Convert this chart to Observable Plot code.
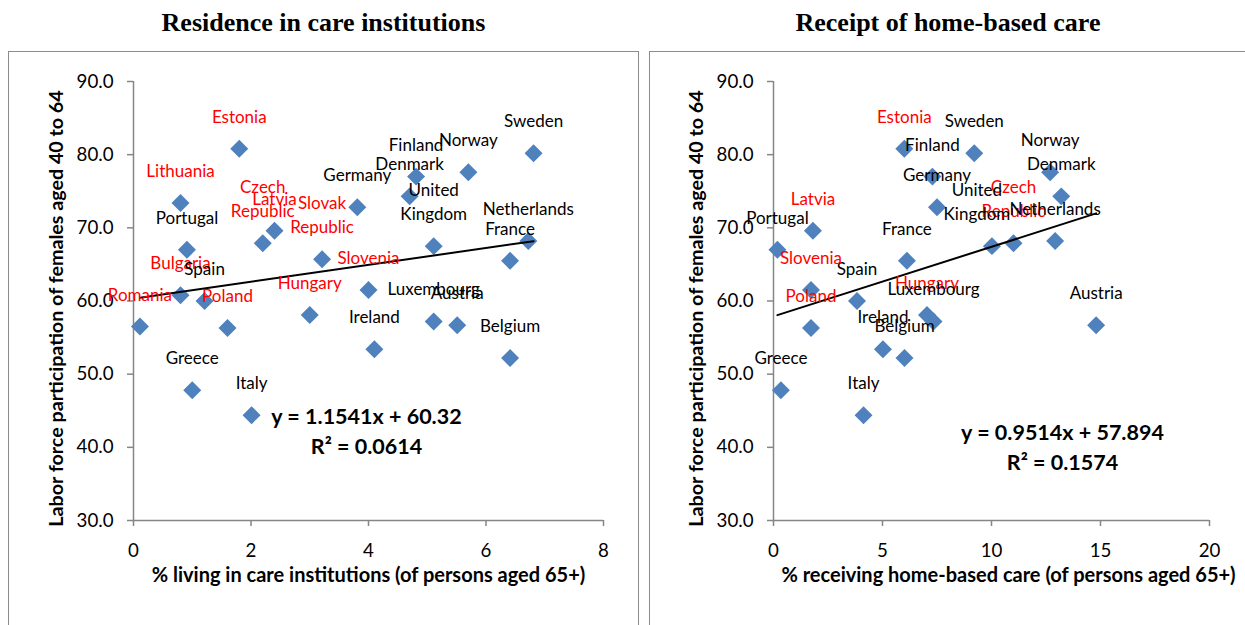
<!DOCTYPE html>
<html>
<head>
<meta charset="utf-8">
<script src="https://cdn.jsdelivr.net/npm/d3@7"></script>
<script src="https://cdn.jsdelivr.net/npm/@observablehq/plot@0.6"></script>
<style>
  html, body { margin: 0; padding: 0; background: #fff; }
  #page { position: relative; width: 1245px; height: 625px; overflow: hidden; background: #fff; }
  .box { position: absolute; top: 51px; height: 620px; border: 1.5px solid #8c8c8c; box-sizing: border-box; }
  .title { position: absolute; top: 10px; font-family: "Liberation Serif", "Times New Roman", serif; font-weight: bold; font-size: 26px; line-height: 1; text-align: center; color: #000; }
  .plotwrap { position: absolute; top: 0; }
  .plotwrap svg { background: transparent; overflow: visible; max-width: none; }
</style>
</head>
<body>
<div id="page">
  <div class="box" style="left:8px; width:631px;"></div>
  <div class="box" style="left:649px; width:610px;"></div>
  <div class="title" style="left:8px; width:631px;">Residence in care institutions</div>
  <div class="title" style="left:649px; width:598px;">Receipt of home-based care</div>
  <div class="plotwrap" id="left" style="left:0px; width:640px;"></div>
  <div class="plotwrap" id="right" style="left:640px; width:605px;"></div>
</div>
<script>
// ---- data ----
const countries = ["Estonia","Lithuania","Portugal","Czech Republic","Latvia","Bulgaria","Spain","Romania","Poland","Hungary","Slovak Republic","Slovenia","Germany","Denmark","Finland","Norway","Sweden","United Kingdom","Netherlands","France","Luxembourg","Austria","Ireland","Belgium","Greece","Italy"];
const region = ["CEE","CEE","West","CEE","CEE","CEE","West","CEE","CEE","CEE","CEE","CEE","West","West","West","West","West","West","West","West","West","West","West","West","West","West"];
// Labor force participation of females aged 40 to 64
const femaleLFP = [80.8,73.4,67.0,67.9,69.6,60.8,60.0,56.5,56.3,58.1,65.7,61.5,72.8,74.3,77.0,77.6,80.2,67.5,68.2,65.5,57.2,56.7,53.4,52.2,47.8,44.4];
// % living in care institutions (persons aged 65+)
const careInstitutions = [1.80,0.80,0.91,2.20,2.40,0.80,1.21,0.11,1.60,3.00,3.21,4.00,3.81,4.70,4.81,5.70,6.81,5.11,6.72,6.41,5.11,5.51,4.10,6.41,1.00,2.01];
// % receiving home-based care (persons aged 65+)
const homeCare = [6.00,null,0.18,11.01,1.81,null,3.83,null,1.72,7.04,null,1.72,7.50,13.20,7.29,12.69,9.21,10.02,12.92,6.12,7.34,14.80,5.02,6.01,0.34,4.13];

const yTicks = [30,40,50,60,70,80,90];
const xTicksLeft = [0,2,4,6,8];
const xTicksRight = [0,5,10,15,20];

const trendLeft = {slope: 1.1541, intercept: 60.32, r2: "0.0614"};
const trendRight = {slope: 0.9514, intercept: 57.894, r2: "0.1574"};

const yTitle = "Labor force participation of females aged 40 to 64";
const xTitleLeft = "% living in care institutions (of persons aged 65+)";
const xTitleRight = "% receiving home-based care (of persons aged 65+)";

// label nudges (layout only, pixels)
const nudgeRight = {"United Kingdom": -15};

// ---- build ----
const rows = countries.map((name, i) => ({name, region: region[i], lfp: femaleLFP[i], inst: careInstitutions[i], home: homeCare[i]}));

const SANS = "Lato, 'Open Sans', sans-serif";
const BLUE = "#4f81bd";
const AXIS = "#868686";

function panel({data, xKey, width, marginRight, xDomain, xTicks, trend, eqDx, eqDy, xTitle, xTitleDx, nudge = {}}) {
  const ext = d3.extent(data, d => d[xKey]);
  const line = ext.map(x => ({x, y: trend.slope * x + trend.intercept}));
  const eqText = `y = ${trend.slope}x + ${trend.intercept}\nR² = ${trend.r2}`;
  const labelOpts = (dx) => ({
    x: xKey, y: "lfp",
    text: d => d.name.replace(" ", "\n"),
    fill: d => d.region === "CEE" ? "#ff0000" : "#000000",
    lineAnchor: "bottom", dy: -26, dx,
    fontSize: 17, lineHeight: 24/17,
    textAnchor: "middle"
  });
  const plain = data.filter(d => !(d.name in nudge));
  const nudgedMarks = data.filter(d => d.name in nudge).map(d => Plot.text([d], labelOpts(nudge[d.name])));
  return Plot.plot({
    width, height: 625,
    marginLeft: 133, marginRight, marginTop: 81, marginBottom: 105,
    style: {background: "transparent", fontFamily: SANS, overflow: "visible"},
    x: {domain: xDomain, ticks: xTicks},
    y: {domain: [30, 90], ticks: yTicks},
    marks: [
      Plot.axisY({ticks: yTicks, tickFormat: d => d.toFixed(1), tickSize: 6, tickPadding: 14, fontSize: 18, stroke: AXIS, strokeWidth: 1.5, fill: "#000", label: null}),
      Plot.axisX({ticks: xTicks, tickFormat: d => String(d), tickSize: 6, tickPadding: 17, fontSize: 18, stroke: AXIS, strokeWidth: 1.5, fill: "#000", label: null}),
      Plot.ruleX([xDomain[0]], {y1: 30, y2: 90, stroke: AXIS, strokeWidth: 1.5}),
      Plot.ruleY([30], {x1: xDomain[0], x2: xDomain[1], stroke: AXIS, strokeWidth: 1.5}),
      Plot.dot(data, {x: xKey, y: "lfp", symbol: "diamond2", r: 8.1, fill: BLUE, stroke: "none"}),
      Plot.line(line, {x: "x", y: "y", stroke: "#000", strokeWidth: 2}),
      Plot.text(plain, labelOpts(0)),
      ...nudgedMarks,
      Plot.text([eqText], {frameAnchor: "middle", dx: eqDx, dy: eqDy, fontSize: 21.5, fontWeight: "bold", lineHeight: 30/21.5, fill: "#000"}),
      Plot.text([xTitle], {frameAnchor: "bottom", dx: xTitleDx, dy: 61, fontSize: 20, fontWeight: "bold", fill: "#000"}),
      Plot.text([yTitle], {frameAnchor: "left", textAnchor: "middle", rotate: -90, dx: -77, dy: 7.5, fontSize: 19.7, fontWeight: "bold", fill: "#000"})
    ]
  });
}

// scale tick-label font so that "90.0" is as wide as in the reference (about 37px)
function fitTicks(svg, targetWidth) {
  const yg = svg.querySelector('g[aria-label="y-axis tick label"]');
  const xg = svg.querySelector('g[aria-label="x-axis tick label"]');
  if (!yg) return;
  const yt = [...yg.querySelectorAll("text")];
  const sample = yt.find(t => t.textContent === "90.0") || yt[yt.length - 1];
  const w = sample.getComputedTextLength();
  const fs = parseFloat(getComputedStyle(sample).fontSize);
  if (!(w > 0) || !(fs > 0)) return;
  const nfs = Math.min(22, fs * targetWidth / w);
  [...yt, ...(xg ? xg.querySelectorAll("text") : [])].forEach(t => t.style.fontSize = nfs + "px");
}

const leftData = rows;
const rightData = rows.filter(d => d.home != null);

const leftSvg = panel({
  data: leftData, xKey: "inst", width: 640, marginRight: 37,
  xDomain: [0, 8], xTicks: xTicksLeft, trend: trendLeft,
  eqDx: -2, eqDy: 128, xTitle: xTitleLeft, xTitleDx: 0
});
document.getElementById("left").appendChild(leftSvg);
fitTicks(leftSvg, 37);

const rightSvg = panel({
  data: rightData, xKey: "home", width: 605, marginRight: 36,
  xDomain: [0, 20], xTicks: xTicksRight, trend: trendRight,
  eqDx: 71, eqDy: 144, xTitle: xTitleRight, xTitleDx: 17, nudge: nudgeRight
});
document.getElementById("right").appendChild(rightSvg);
fitTicks(rightSvg, 37);
</script>
</body>
</html>
